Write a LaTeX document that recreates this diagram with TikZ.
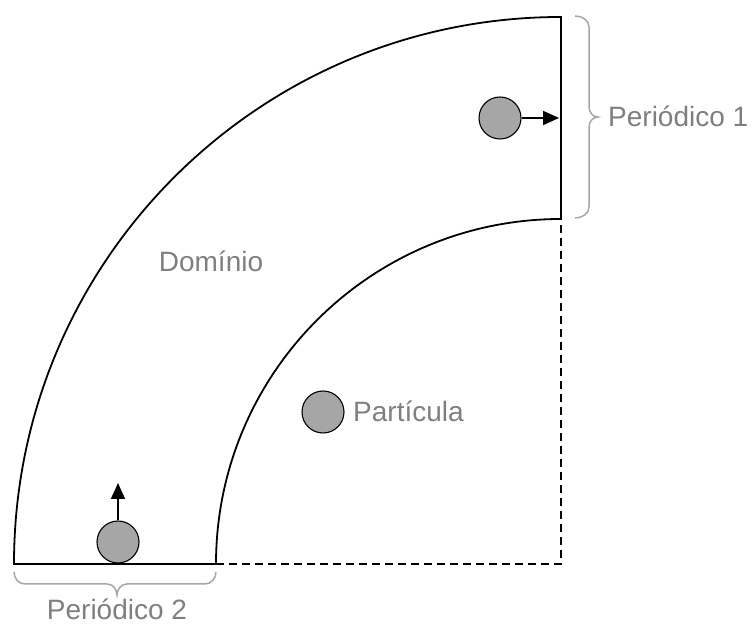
\documentclass[tikz,border=0pt]{standalone}
\usepackage{fontspec}
\setmainfont{Liberation Sans}
\usetikzlibrary{arrows.meta}
\definecolor{txtgray}{HTML}{7F7F7F}
\definecolor{bracegray}{HTML}{A6A6A6}
\definecolor{partfill}{HTML}{A6A6A6}
\tikzset{
  wall/.style={draw=black,line width=1.8pt},
  openwall/.style={draw=black,line width=1.5pt,dash pattern=on 8pt off 5pt},
  particle/.style={circle,draw=black,line width=1.1pt,fill=partfill,minimum size=42pt,inner sep=0pt},
  velocity/.style={draw=black,line width=1.8pt,-{Triangle[length=16pt,width=14pt]}},
  label/.style={text=txtgray,font=\fontsize{28}{32}\selectfont,inner sep=0pt},
  bracket/.style={draw=bracegray,line width=1.5pt}
}
\begin{document}
\begin{tikzpicture}[x=1pt,y=1pt]
\useasboundingbox (0,0) rectangle (752,626);
% domain
\coordinate (oleft) at (14,62);
\coordinate (otop) at (561,609);
\coordinate (itop) at (561,407);
\coordinate (ileft) at (216,62);
\coordinate (corner) at (561,62);
\draw[wall] (oleft) arc[start angle=180,end angle=90,radius=547pt] -- (itop)
  arc[start angle=90,end angle=180,radius=345pt] -- cycle;
\draw[openwall] (ileft) -- (corner) -- (itop);
% particles
\node[particle] (p1) at (500,508) {};
\coordinate (a1) at (559,508);
\draw[velocity] (p1.east) -- (a1);
\node[particle] (p2) at (118,84) {};
\coordinate (a2) at (118,143);
\draw[velocity] (p2.north) -- (a2);
\node[particle] (p3) at (323,214) {};
\node[label,anchor=base west] (lp) at (353,204) {Partícula};
\node[label,anchor=base] (ld) at (211,354) {Domínio};
% braces
\draw[bracket] (575,610) to[out=0,in=90] (589,599) -- (589,519)
  to[out=-90,in=180] (598,509) to[out=180,in=90] (589,499) -- (589,419)
  to[out=-90,in=0] (575,408);
\node[label,anchor=base west] (l1) at (608,499) {Periódico 1};
\draw[bracket] (14,54) to[out=-90,in=180] (25,42) -- (107,42)
  to[out=0,in=90] (117,31) to[out=90,in=180] (127,42) -- (205,42)
  to[out=0,in=-90] (216,54);
\node[label,anchor=base,text depth=0pt] (l2) at (117,6) {Periódico 2};
\end{tikzpicture}
\end{document}
